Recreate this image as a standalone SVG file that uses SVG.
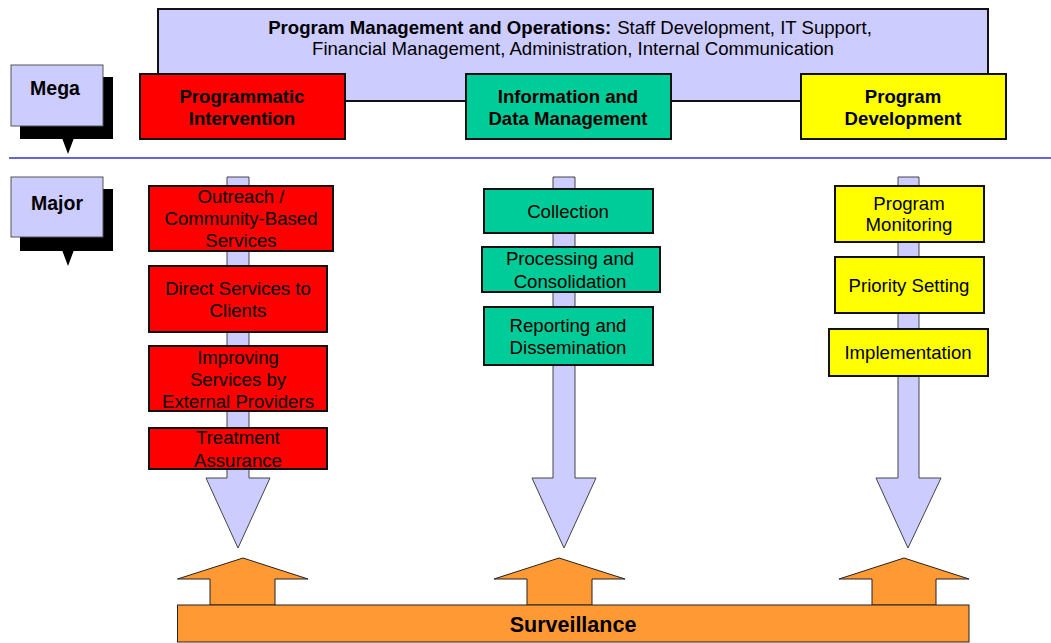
<svg xmlns="http://www.w3.org/2000/svg" width="1051" height="643" viewBox="0 0 1051 643">
<style>
text{font-family:"Liberation Sans",Arial,sans-serif;fill:#000}
.b{font-weight:bold}
.lbl{font-size:18.6px;text-anchor:middle}
.top{font-size:18.6px;font-weight:bold;text-anchor:middle}
.box{stroke:#111;stroke-width:2}
.red{fill:#FF0000}
.grn{fill:#00CC99}
.yel{fill:#FFFF00}
.lav{fill:#CCCCFF}
.shaft{fill:#CCCCFF;stroke:#444;stroke-width:1}
.up{fill:#FF9933;stroke:#222;stroke-width:1}
.tag{fill:#CCCCFF;stroke:#555;stroke-width:1}
</style>
<rect width="1051" height="643" fill="#fff"/>

<g id="connectors">
<polygon class="shaft" points="227,177 249,177 249,478 270,478 238,548 206,478 227,478"/>
<polygon class="shaft" points="553,177 575,177 575,478 596,478 564,548 532,478 553,478"/>
<polygon class="shaft" points="898,177 919,177 919,478 941,478 908,548 876,478 898,478"/>
<polygon class="up" points="210,605 210,579 177.5,579 243,558 308,579 275,579 275,605"/>
<polygon class="up" points="527,605 527,579 494,579 559,558 625,579 592,579 592,605"/>
<polygon class="up" points="872,605 872,579 839,579 904,558 969,579 936,579 936,605"/>
<line x1="9" y1="158" x2="1051" y2="158" stroke="#3333CC" stroke-width="1.5"/>
</g>

<g id="pmo">
<rect class="box lav" x="158" y="9" width="830" height="92"/>
<text x="570" y="34" style="font-size:18.6px;text-anchor:middle"><tspan class="b">Program Management and Operations:</tspan><tspan dx="6">Staff Development, IT Support,</tspan></text>
<text x="573" y="55" class="lbl">Financial Management, Administration, Internal Communication</text>
</g>

<g id="mega">
<rect x="20" y="77" width="93" height="62" fill="#000"/>
<polygon points="62,138 74,138 68,154" fill="#000"/>
<rect class="tag" x="11" y="65" width="92" height="61"/>
<text x="55" y="95" class="b" style="font-size:19.5px;text-anchor:middle">Mega</text>
</g>

<g id="major">
<rect x="20" y="189" width="93" height="62" fill="#000"/>
<polygon points="62,250 74,250 68,266" fill="#000"/>
<rect class="tag" x="11" y="177" width="92" height="60"/>
<text x="57" y="210" class="b" style="font-size:19.5px;text-anchor:middle">Major</text>
</g>

<g id="programmatic-intervention">
<rect class="box red" x="140" y="74" width="205" height="65"/>
<text class="top" x="242" y="103">Programmatic</text>
<text class="top" x="242" y="125">Intervention</text>
</g>
<g id="information-data-management">
<rect class="box grn" x="466" y="74" width="205" height="65"/>
<text class="top" x="568" y="103">Information and</text>
<text class="top" x="568" y="125">Data Management</text>
</g>
<g id="program-development">
<rect class="box yel" x="801" y="74" width="205" height="65"/>
<text class="top" x="903" y="103">Program</text>
<text class="top" x="903" y="125">Development</text>
</g>

<g id="outreach">
<rect class="box red" x="149" y="186" width="184" height="65"/>
<text class="lbl" x="241" y="203">Outreach /</text>
<text class="lbl" x="241" y="225">Community-Based</text>
<text class="lbl" x="241" y="247">Services</text>
</g>
<g id="direct-services">
<rect class="box red" x="149" y="266" width="178" height="66"/>
<text class="lbl" x="238" y="295">Direct Services to</text>
<text class="lbl" x="238" y="317">Clients</text>
</g>
<g id="improving-services">
<rect class="box red" x="149" y="346" width="178" height="65"/>
<text class="lbl" x="238" y="364">Improving</text>
<text class="lbl" x="238" y="386">Services by</text>
<text class="lbl" x="238" y="408">External Providers</text>
</g>
<g id="treatment-assurance">
<rect class="box red" x="149" y="428" width="178" height="41"/>
<text class="lbl" x="238" y="444">Treatment</text>
<text class="lbl" x="238" y="467">Assurance</text>
</g>

<g id="collection">
<rect class="box grn" x="484" y="189" width="169" height="44"/>
<text class="lbl" x="568" y="218">Collection</text>
</g>
<g id="processing">
<rect class="box grn" x="482" y="247" width="178" height="45"/>
<text class="lbl" x="570" y="265">Processing and</text>
<text class="lbl" x="570" y="288">Consolidation</text>
</g>
<g id="reporting">
<rect class="box grn" x="484" y="307" width="169" height="58"/>
<text class="lbl" x="568" y="332">Reporting and</text>
<text class="lbl" x="568" y="354">Dissemination</text>
</g>

<g id="program-monitoring">
<rect class="box yel" x="835" y="186" width="149" height="56"/>
<text class="lbl" x="909" y="210">Program</text>
<text class="lbl" x="909" y="231">Monitoring</text>
</g>
<g id="priority-setting">
<rect class="box yel" x="835" y="257" width="149" height="56"/>
<text class="lbl" x="909" y="292">Priority Setting</text>
</g>
<g id="implementation">
<rect class="box yel" x="829" y="329" width="159" height="47"/>
<text class="lbl" x="908" y="359">Implementation</text>
</g>

<g id="surveillance">
<rect class="up" x="177.5" y="605" width="791.5" height="37"/>
<text x="573" y="632" class="b" style="font-size:21.5px;text-anchor:middle">Surveillance</text>
</g>
</svg>
